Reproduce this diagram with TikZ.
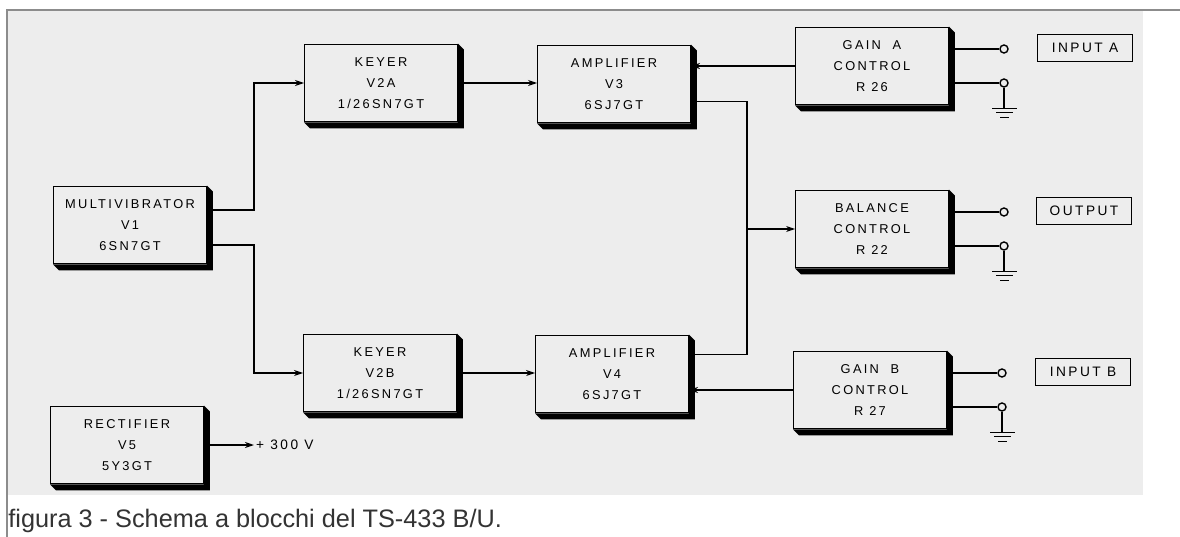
\documentclass[tikz,border=0pt]{standalone}
\usepackage{fontspec}
\setmainfont{Liberation Sans}
\newfontfamily\leroy[LetterSpace=18]{Liberation Sans}
\usetikzlibrary{arrows.meta}
\definecolor{paper}{gray}{0.93}
\newcommand{\gnd}[1]{\draw[wire] (#1.south) -- ++(0,21) ++(-12,0) -- ++(25,0)
  ++(-21,4) -- ++(17,0) ++(-13,5) -- ++(9,0);}

\begin{document}
\begin{tikzpicture}[
  x=0.02cm,y=-0.02cm,>={Stealth[length=1.8mm,width=1.2mm]},
  block/.style={draw,line width=0.8pt,fill=paper,align=center,
    font=\leroy\fontsize{7.3}{12}\selectfont,minimum width=3.05cm,
    minimum height=1.55cm,inner sep=1pt},
  tagbox/.style={draw,line width=0.8pt,font=\leroy\fontsize{7.8}{9}\selectfont,
    minimum width=1.9cm,minimum height=0.54cm,inner sep=1pt},
  term/.style={circle,draw,fill=paper,line width=0.8pt,inner sep=0pt,minimum size=1.6mm},
  wire/.style={line width=0.8pt}
]
\useasboundingbox (0,0) rectangle (1180,537);
\fill[paper] (7,10) rectangle (1143,495);
\draw[black!45,line width=0.6pt] (1180,10) -- (7,10) -- (7,537);

\node[block] (mv)    at (130,225) {MULTIVIBRATOR\\V1\\6SN7GT};
\node[block] (keyA)  at (381,83)  {KEYER\\V2A\\1/26SN7GT};
\node[block] (keyB)  at (380,373) {KEYER\\V2B\\1/26SN7GT};
\node[block] (ampA)  at (614,84)  {AMPLIFIER\\V3\\6SJ7GT};
\node[block] (ampB)  at (612,374) {AMPLIFIER\\V4\\6SJ7GT};
\node[block] (gainA) at (872,66)  {GAIN\ \ A\\CONTROL\\R 26};
\node[block] (bal)   at (872,229) {BALANCE\\CONTROL\\R 22};
\node[block] (gainB) at (870,390) {GAIN\ \ B\\CONTROL\\R 27};
\node[block] (rect)  at (127,445) {RECTIFIER\\V5\\5Y3GT};
\node[anchor=west,inner sep=1pt,font=\leroy\fontsize{7.8}{9}\selectfont] (hv) at (254,445) {+ 300 V};

\foreach \b in {mv,keyA,keyB,ampA,ampB,gainA,bal,gainB,rect}
  \fill (\b.north east) -- ([shift={(6,6)}]\b.north east) -- ([shift={(6,6)}]\b.south east)
    -- ([shift={(6,6)}]\b.south west) -- (\b.south west) -- (\b.south east) -- cycle;

\node[term] (tA1) at (1004,49)  {};
\node[term] (tA2) at (1004,83)  {};
\node[term] (tO1) at (1004,212) {};
\node[term] (tO2) at (1004,246) {};
\node[term] (tB1) at (1002,373) {};
\node[term] (tB2) at (1002,407) {};
\node[tagbox] (inA) at (1085,48)  {INPUT A};
\node[tagbox] (out) at (1084,211) {OUTPUT};
\node[tagbox] (inB) at (1083,372) {INPUT B};

\coordinate (bus) at (747,229);
\draw[wire,->] ([yshift=3mm]mv.east) -- ++(47,0) |- (keyA.west);
\draw[wire,->] ([yshift=-4mm]mv.east) -- ++(47,0) |- (keyB.west);
\draw[wire,->] (keyA.east) -- (keyA.east -| ampA.west);
\draw[wire,->] (keyB.east) -- (keyB.east -| ampB.west);
\draw[wire,->] (gainA.west) -- (gainA.west -| ampA.east);
\draw[wire,->] (gainB.west) -- (gainB.west -| ampB.east);
\draw[wire] ([yshift=-3.5mm]ampA.east) -| (bus);
\draw[wire] ([yshift=3.9mm]ampB.east) -| (bus);
\draw[wire,->] (bus) -- (bal.west);
\draw[wire,->] (rect.east) -- (hv.west);

\draw[wire] (tA1 -| gainA.east) -- (tA1);
\draw[wire] (tA2 -| gainA.east) -- (tA2);
\draw[wire] (tO1 -| bal.east) -- (tO1);
\draw[wire] (tO2 -| bal.east) -- (tO2);
\draw[wire] (tB1 -| gainB.east) -- (tB1);
\draw[wire] (tB2 -| gainB.east) -- (tB2);
\gnd{tA2}
\gnd{tO2}
\gnd{tB2}

\node[anchor=base west,inner sep=0pt,text=black!80,font=\fontsize{14.4}{16}\selectfont]
  (cap) at (8,527) {figura 3 - Schema a blocchi del TS-433 B/U.};
\end{tikzpicture}
\end{document}
